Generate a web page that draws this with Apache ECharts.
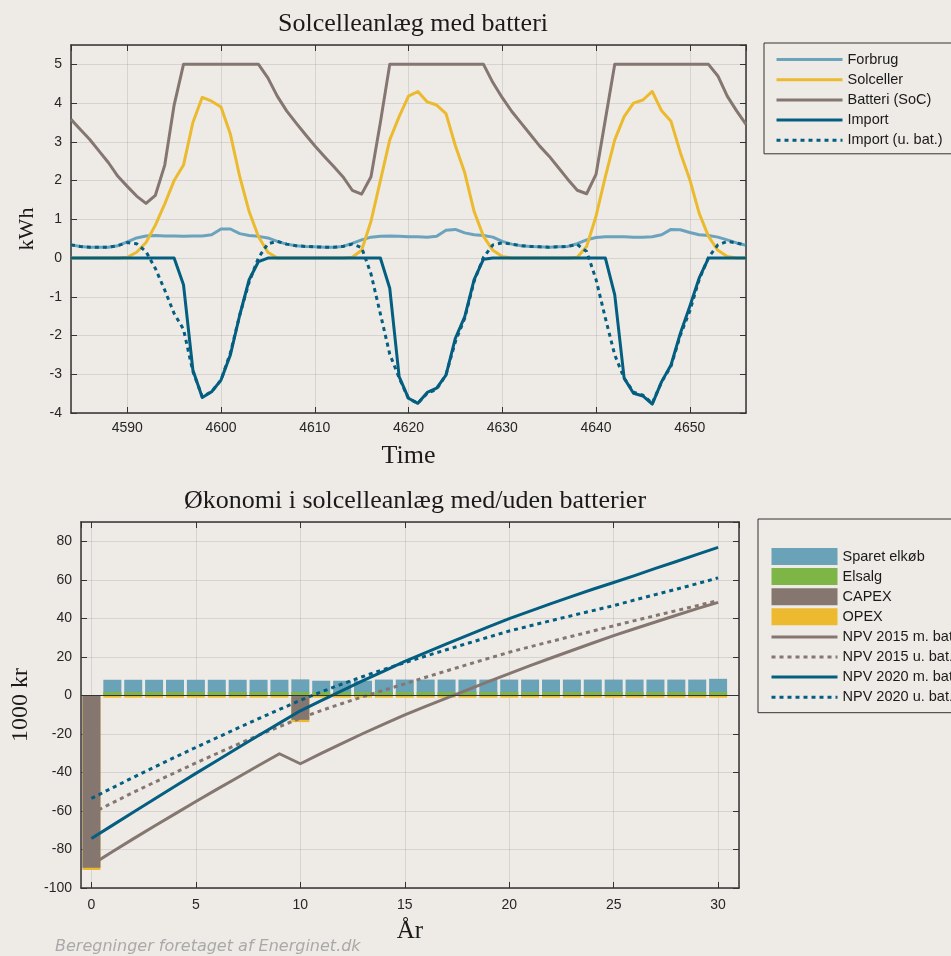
<!DOCTYPE html>
<html><head><meta charset="utf-8">
<script src="https://cdn.jsdelivr.net/npm/echarts@6/dist/echarts.min.js"></script>
<style>html,body{margin:0;padding:0;background:#EEEBE7}#c{width:951px;height:956px}</style>
</head><body><div id="c"></div><script>
// ---------- Top chart data (hourly) ----------
const hours = [4584,4585,4586,4587,4588,4589,4590,4591,4592,4593,
  4594,4595,4596,4597,4598,4599,4600,4601,4602,4603,
  4604,4605,4606,4607,4608,4609,4610,4611,4612,4613,
  4614,4615,4616,4617,4618,4619,4620,4621,4622,4623,
  4624,4625,4626,4627,4628,4629,4630,4631,4632,4633,
  4634,4635,4636,4637,4638,4639,4640,4641,4642,4643,
  4644,4645,4646,4647,4648,4649,4650,4651,4652,4653,
  4654,4655,4656];
const forbrug = [0.34,0.30,0.28,0.28,0.28,0.32,0.42,0.52,0.57,0.58,
  0.57,0.57,0.56,0.57,0.57,0.60,0.75,0.75,0.63,0.58,
  0.56,0.52,0.43,0.36,0.32,0.30,0.29,0.28,0.28,0.30,
  0.38,0.47,0.54,0.56,0.57,0.56,0.55,0.55,0.54,0.56,
  0.72,0.74,0.65,0.60,0.58,0.54,0.43,0.36,0.32,0.30,
  0.29,0.28,0.29,0.30,0.37,0.47,0.53,0.55,0.55,0.55,
  0.54,0.54,0.55,0.60,0.74,0.73,0.66,0.60,0.58,0.54,
  0.47,0.39,0.33];
const solceller = [0,0,0,0,0,0,0.02,0.15,0.40,0.85,
  1.40,2.00,2.40,3.50,4.15,4.05,3.90,3.20,2.10,1.20,
  0.55,0.15,0,0,0,0,0,0,0,0,
  0.02,0.20,0.95,2.00,3.05,3.65,4.18,4.30,4.03,3.95,
  3.73,2.90,2.20,1.20,0.56,0.20,0.04,0,0,0,
  0,0,0,0,0.02,0.30,1.08,2.10,3.05,3.65,
  4.00,4.08,4.30,3.80,3.53,2.72,2.03,1.16,0.56,0.20,
  0.04,0,0];
const batteri = [3.58,3.32,3.06,2.76,2.46,2.11,1.85,1.60,1.41,1.62,
  2.40,3.95,5,5,5,5,5,5,5,5,
  5,4.65,4.18,3.80,3.49,3.19,2.90,2.63,2.37,2.10,
  1.75,1.65,2.10,3.50,5,5,5,5,5,5,
  5,5,5,5,5,4.53,4.14,3.79,3.49,3.19,
  2.89,2.63,2.33,2.03,1.75,1.66,2.16,3.58,5,5,
  5,5,5,5,5,5,5,5,5,4.70,
  4.18,3.80,3.45];
const importSol = [0,0,0,0,0,0,0,0,0,0,
  0,0,-0.69,-2.89,-3.60,-3.45,-3.15,-2.50,-1.47,-0.56,
  -0.09,0,0,0,0,0,0,0,0,0,
  0,0,0,0,-0.78,-3.06,-3.62,-3.75,-3.47,-3.36,
  -3.02,-2.07,-1.51,-0.56,-0.03,0,0,0,0,0,
  0,0,0,0,0,0,0,0,-0.95,-3.10,
  -3.49,-3.56,-3.77,-3.19,-2.76,-1.94,-1.25,-0.52,0,0,
  0,0,0];
const importUbat = [0.34,0.30,0.28,0.28,0.28,0.32,0.40,0.37,0.17,-0.27,
  -0.83,-1.43,-1.84,-2.93,-3.58,-3.45,-3.15,-2.45,-1.47,-0.62,
  0.01,0.37,0.43,0.36,0.32,0.30,0.29,0.28,0.28,0.30,
  0.36,0.27,-0.41,-1.44,-2.48,-3.09,-3.63,-3.75,-3.49,-3.39,
  -3.01,-2.16,-1.55,-0.60,0.02,0.34,0.39,0.36,0.32,0.30,
  0.29,0.28,0.29,0.30,0.35,0.17,-0.55,-1.55,-2.50,-3.10,
  -3.46,-3.54,-3.75,-3.20,-2.79,-1.99,-1.37,-0.56,0.02,0.34,
  0.43,0.39,0.33];

// ---------- Bottom chart data (yearly, 1000 kr) ----------
const years = [0,1,2,3,4,5,6,7,8,9,10,11,12,13,14,15,16,17,18,19,20,21,22,23,24,25,26,27,28,29,30];
const sparetElkob = [0,6.3,6.3,6.3,6.3,6.3,6.3,6.3,6.3,6.3,6.5,5.8,5.8,5.8,6.4,6.4,6.4,6.4,6.4,6.4,6.4,6.4,6.4,6.4,6.4,6.4,6.4,6.4,6.4,6.4,6.8];
const elsalg = [0,1.8,1.8,1.8,1.8,1.8,1.8,1.8,1.8,1.8,1.8,1.8,1.8,1.8,1.8,1.8,1.8,1.8,1.8,1.8,1.8,1.8,1.8,1.8,1.8,1.8,1.8,1.8,1.8,1.8,1.8];
const capex = [-89.5,0,0,0,0,0,0,0,0,0,-12.7,0,0,0,0,0,0,0,0,0,0,0,0,0,0,0,0,0,0,0,0];
const opex = [-1.2,-1.2,-1.2,-1.2,-1.2,-1.2,-1.2,-1.2,-1.2,-1.2,-1.2,-1.2,-1.2,-1.2,-1.2,-1.2,-1.2,-1.2,-1.2,-1.2,-1.2,-1.2,-1.2,-1.2,-1.2,-1.2,-1.2,-1.2,-1.2,-1.2,-1.2];
const npv2015m = [-88.0,-81.2,-74.5,-67.9,-61.5,-55.1,-48.8,-42.6,-36.4,-30.3,-35.5,-30.1,-24.9,-19.8,-14.9,-10.1,-5.7,-1.4,2.9,7.1,11.3,15.4,19.4,23.3,27.2,31.0,34.6,38.1,41.6,45.0,48.3];
const npv2015u = [-61.3,-55.8,-50.4,-45.2,-40.1,-35.1,-30.2,-25.4,-20.7,-16.2,-11.8,-7.9,-4.2,-0.7,2.7,6.0,9.4,12.7,16.0,19.2,22.4,25.2,28.0,30.7,33.4,36.1,38.8,41.4,44.0,46.6,49.2];
const npv2020m = [-74.3,-67.5,-60.7,-53.9,-47.2,-40.5,-33.9,-27.3,-20.8,-14.4,-8.0,-2.7,2.5,7.6,12.6,17.6,22.2,26.7,31.1,35.5,39.8,43.7,47.6,51.4,55.1,58.6,62.2,65.9,69.5,73.2,76.8];
const npv2020u = [-53.5,-48.0,-42.6,-37.3,-32.1,-27.0,-22.0,-17.0,-12.1,-7.3,-2.6,1.8,5.9,9.8,13.5,17.0,20.4,23.7,27.0,30.2,33.4,36.1,38.8,41.4,44.0,46.6,49.5,52.3,55.1,58.0,61.0];

// ---------- helpers ----------
const BG = '#EEEBE7', AX = '#333333', GRIDC = 'rgba(38,38,38,0.12)', TXT = '#262626';
const C_FOR = '#6AA3BB', C_SOL = '#EBBA2E', C_BAT = '#857670', C_IMP = '#035E80', C_GREEN = '#7DB646';
const pairs = (xs, ys) => xs.map((x, i) => [x, ys[i]]);
const posTop = years.map((y, i) => elsalg[i] + sparetElkob[i]);   // stacked top of positive bars
const negBottom = years.map((y, i) => capex[i] + opex[i]);        // stacked bottom of negative bars

const labelFont = {color: TXT, fontSize: 14, fontFamily: 'Liberation Sans', formatter: v => String(v)};
const nameFont = (s) => ({fontFamily: 'Liberation Serif', fontSize: s, color: '#1a1a1a'});

function xAx(grid, min, max, split, main, name, gap, nsize, lmargin) {
  return {
    type: 'value', gridIndex: grid, min: min, max: max, splitNumber: split,
    position: main ? 'bottom' : 'top',
    axisLine: {show: true, onZero: false, lineStyle: {color: AX, width: 1.5}},
    axisTick: {show: true, inside: true, length: 6, lineStyle: {color: AX, width: 1}},
    axisLabel: main ? Object.assign({show: true, margin: lmargin || 8, showMinLabel: false, showMaxLabel: false}, labelFont) : {show: false},
    splitLine: {show: main, lineStyle: {color: GRIDC, width: 1}},
    name: main ? name : '', nameLocation: 'middle', nameGap: gap, nameTextStyle: nameFont(nsize)
  };
}
function yAx(grid, min, max, interval, main, name, gap, nsize) {
  return {
    type: 'value', gridIndex: grid, min: min, max: max, interval: interval,
    position: main ? 'left' : 'right',
    axisLine: {show: true, onZero: false, lineStyle: {color: AX, width: 1.5}},
    axisTick: {show: true, inside: true, length: 6, lineStyle: {color: AX, width: 1}},
    axisLabel: main ? Object.assign({show: true, margin: 9, showMaxLabel: false}, labelFont) : {show: false},
    splitLine: {show: main, lineStyle: {color: GRIDC, width: 1}},
    name: main ? name : '', nameLocation: 'middle', nameGap: gap, nameRotate: 90, nameTextStyle: nameFont(nsize)
  };
}
function line(name, xs, ys, color, dotted, xi, yi) {
  return {
    name: name, type: 'line', xAxisIndex: xi, yAxisIndex: yi, data: pairs(xs, ys),
    symbol: 'none', showSymbol: false, animation: false,
    lineStyle: {color: color, width: 3, type: dotted ? [4, 4] : 'solid', cap: 'butt', join: 'round'},
    itemStyle: {color: color}
  };
}
function bar(name, ys, color, extra) {
  return Object.assign({
    name: name, type: 'bar', xAxisIndex: 2, yAxisIndex: 2, data: pairs(years, ys),
    barWidth: 18, barGap: '-100%', animation: false,
    itemStyle: {color: color}
  }, extra || {});
}
// legend entry for a line: hide the marker, keep the stroke
const lineItem = (name) => ({name: name, itemStyle: {opacity: 0}, lineStyle: {width: 3}});

const option = {
  backgroundColor: BG,
  animation: false,
  textStyle: {fontFamily: 'Liberation Sans'},
  title: [
    {text: 'Solcelleanlæg med batteri', left: 408, top: 6, textAlign: 'center',
     textStyle: {fontFamily: 'Liberation Serif', fontSize: 26, fontWeight: 'normal', color: '#1a1a1a'}},
    {text: 'Økonomi i solcelleanlæg med/uden batterier', left: 410, top: 483, textAlign: 'center',
     textStyle: {fontFamily: 'Liberation Serif', fontSize: 26, fontWeight: 'normal', color: '#1a1a1a'}},
    {text: 'Beregninger foretaget af Energinet.dk', left: 55, top: 939, padding: 0,
     textStyle: {fontFamily: 'DejaVu Sans', fontStyle: 'italic', fontSize: 16, fontWeight: 'normal', color: '#A9A9A9'}}
  ],
  grid: [
    {left: 71, top: 45, width: 675, height: 368, containLabel: false},
    {left: 81, top: 522, width: 658, height: 366, containLabel: false}
  ],
  legend: [
    {orient: 'vertical', left: 764, top: 43, padding: [9, 20, 6, 11],
     itemWidth: 66, itemHeight: 14, itemGap: 5.2,
     borderColor: '#333', borderWidth: 1, backgroundColor: BG, borderRadius: 0,
     textStyle: {fontFamily: 'Liberation Sans', fontSize: 14.5, lineHeight: 14.5, color: '#1a1a1a'},
     data: ['Forbrug', 'Solceller', 'Batteri (SoC)', 'Import', 'Import (u. bat.)'].map(lineItem)},
    {orient: 'vertical', left: 758, top: 519, padding: [29, 20, 7, 12],
     itemWidth: 66, itemHeight: 17, itemGap: 3.1,
     borderColor: '#333', borderWidth: 1, backgroundColor: BG, borderRadius: 0,
     textStyle: {fontFamily: 'Liberation Sans', fontSize: 14.5, lineHeight: 17, color: '#1a1a1a'},
     data: [{name: 'Sparet elkøb', icon: 'rect'}, {name: 'Elsalg', icon: 'rect'},
            {name: 'CAPEX', icon: 'rect'}, {name: 'OPEX', icon: 'rect'}].concat(
            ['NPV 2015 m. bat.', 'NPV 2015 u. bat.', 'NPV 2020 m. bat.', 'NPV 2020 u. bat.'].map(lineItem))}
  ],
  xAxis: [
    xAx(0, 4584, 4656, 7, true, 'Time', 30, 26, 8),
    xAx(0, 4584, 4656, 7, false),
    xAx(1, -0.5, 31, 6, true, 'År', 31, 25, 10),
    xAx(1, -0.5, 31, 6, false)
  ],
  yAxis: [
    yAx(0, -4, 5.5, 1, true, 'kWh', 32, 22),
    yAx(0, -4, 5.5, 1, false),
    yAx(1, -100, 90, 20, true, '1000 kr', 48, 24),
    yAx(1, -100, 90, 20, false)
  ],
  series: [
    line('Forbrug', hours, forbrug, C_FOR, false, 0, 0),
    line('Solceller', hours, solceller, C_SOL, false, 0, 0),
    line('Batteri (SoC)', hours, batteri, C_BAT, false, 0, 0),
    line('Import', hours, importSol, C_IMP, false, 0, 0),
    line('Import (u. bat.)', hours, importUbat, C_IMP, true, 0, 0),

    bar('Sparet elkøb', posTop, '#6AA2B8'),
    bar('Elsalg', elsalg, C_GREEN),
    bar('OPEX', negBottom, '#EDB92F'),
    bar('CAPEX', capex, C_BAT, {
      markLine: {silent: true, symbol: ['none', 'none'], label: {show: false}, animation: false,
        lineStyle: {color: '#333', width: 1, type: 'solid'}, data: [{yAxis: 0}]}
    }),

    line('NPV 2015 m. bat.', years, npv2015m, C_BAT, false, 2, 2),
    line('NPV 2015 u. bat.', years, npv2015u, C_BAT, true, 2, 2),
    line('NPV 2020 m. bat.', years, npv2020m, C_IMP, false, 2, 2),
    line('NPV 2020 u. bat.', years, npv2020u, C_IMP, true, 2, 2)
  ]
};
const chart = echarts.init(document.getElementById('c'), null, {renderer: 'canvas'});
chart.setOption(option);
</script></body></html>
